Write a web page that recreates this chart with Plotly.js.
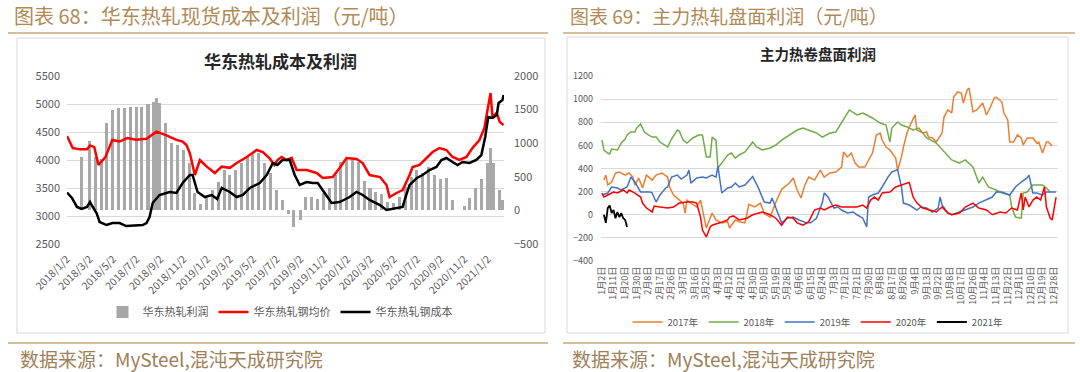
<!DOCTYPE html>
<html><head><meta charset="utf-8">
<script src="https://cdn.plot.ly/plotly-3.0.1.min.js"></script>
<style>html,body{margin:0;padding:0;background:#fff;} #chart{width:1080px;height:372px;}</style>
</head><body><div id="chart"></div>
<script>
// ---------- Left chart data (华东热轧成本及利润) ----------
const leftTickDates = ['2018-01-02','2018-03-02','2018-05-02','2018-07-02','2018-09-02','2018-11-02','2019-01-02','2019-03-02','2019-05-02','2019-07-02','2019-09-02','2019-11-02','2020-01-02','2020-03-02','2020-05-02','2020-07-02','2020-09-02','2020-11-02','2021-01-02'];
const leftTickLabels = ['2018/1/2','2018/3/2','2018/5/2','2018/7/2','2018/9/2','2018/11/2','2019/1/2','2019/3/2','2019/5/2','2019/7/2','2019/9/2','2019/11/2','2020/1/2','2020/3/2','2020/5/2','2020/7/2','2020/9/2','2020/11/2','2021/1/2'];

const priceDates = ['2018-01-02','2018-01-17','2018-02-05','2018-02-23','2018-03-03','2018-03-14','2018-03-25','2018-04-12','2018-04-30','2018-05-19','2018-06-08','2018-07-01','2018-07-28','2018-08-23','2018-09-18','2018-10-14','2018-10-30','2018-11-09','2018-11-18','2018-12-01','2018-12-14','2019-01-01','2019-01-22','2019-02-09','2019-03-02','2019-03-20','2019-04-15','2019-05-11','2019-05-27','2019-06-13','2019-06-26','2019-07-04','2019-07-15','2019-07-28','2019-08-10','2019-08-23','2019-09-18','2019-10-14','2019-10-30','2019-11-25','2019-12-13','2019-12-31','2020-01-26','2020-02-11','2020-02-29','2020-03-27','2020-04-13','2020-04-21','2020-05-09','2020-05-25','2020-06-12','2020-06-20','2020-07-08','2020-07-26','2020-08-11','2020-08-29','2020-09-16','2020-10-02','2020-10-20','2020-11-07','2020-11-23','2020-12-11','2020-12-24','2021-01-01','2021-01-09','2021-01-14','2021-01-25','2021-02-02','2021-02-12'];
const priceVals = [4430,4214,4190,4190,4260,4230,3911,4050,4357,4330,4393,4360,4380,4506,4440,4360,4330,4268,4120,3732,4000,3881,3768,3881,3860,3946,4054,4179,4143,4036,3911,4000,4054,4000,4036,3821,3821,3768,3679,3696,3857,4036,4018,3946,3732,3696,3554,3339,3411,3464,3732,3875,3911,4036,4143,4214,4179,4054,4000,4054,4214,4357,4571,4893,5196,4768,4839,4679,4625];

const costDates = ['2018-01-02','2018-01-15','2018-01-28','2018-02-09','2018-02-23','2018-03-03','2018-03-10','2018-03-20','2018-03-28','2018-04-15','2018-04-30','2018-05-19','2018-06-05','2018-07-01','2018-07-18','2018-07-28','2018-08-05','2018-08-13','2018-08-31','2018-09-26','2018-10-14','2018-10-30','2018-11-18','2018-11-25','2018-12-08','2018-12-27','2019-01-14','2019-01-28','2019-02-09','2019-03-02','2019-03-20','2019-04-05','2019-04-23','2019-05-19','2019-06-06','2019-06-22','2019-07-04','2019-07-17','2019-08-05','2019-08-18','2019-08-31','2019-09-18','2019-10-04','2019-10-17','2019-10-30','2019-11-22','2019-12-13','2020-01-08','2020-01-26','2020-02-11','2020-02-29','2020-03-27','2020-04-13','2020-05-09','2020-05-25','2020-05-31','2020-06-12','2020-07-01','2020-07-16','2020-08-03','2020-08-21','2020-09-03','2020-09-16','2020-10-02','2020-10-15','2020-10-28','2020-11-15','2020-12-03','2020-12-16','2020-12-26','2021-01-03','2021-01-14','2021-01-25','2021-01-30','2021-02-09','2021-02-12'];
const costVals = [3420,3321,3161,3125,3161,3250,3161,3054,2893,2839,2875,2875,2821,2839,2839,2875,2982,3232,3375,3429,3411,3589,3732,3732,3429,3339,3375,3304,3500,3429,3339,3375,3500,3589,3732,3946,3911,4000,4000,3732,3554,3607,3589,3589,3464,3232,3250,3339,3429,3375,3286,3196,3107,3143,3161,3300,3550,3679,3732,3821,3875,4000,4036,3964,3911,3964,3946,4000,4089,4411,4768,4750,4804,5018,5071,5161];

const profitDates = ['2018-02-08','2018-03-01','2018-03-16','2018-04-01','2018-04-16','2018-05-01','2018-05-16','2018-06-01','2018-06-16','2018-07-01','2018-07-16','2018-08-01','2018-08-16','2018-08-23','2018-09-01','2018-09-16','2018-10-01','2018-10-16','2018-11-01','2018-11-16','2018-12-01','2018-12-16','2019-01-01','2019-01-16','2019-02-01','2019-02-16','2019-03-01','2019-03-16','2019-04-01','2019-04-16','2019-05-01','2019-05-16','2019-06-01','2019-06-16','2019-07-01','2019-07-16','2019-08-01','2019-08-16','2019-09-01','2019-09-16','2019-10-01','2019-10-16','2019-11-01','2019-11-16','2019-12-01','2019-12-16','2020-01-01','2020-01-16','2020-02-01','2020-02-16','2020-03-01','2020-03-16','2020-04-01','2020-04-16','2020-05-01','2020-05-16','2020-06-01','2020-06-16','2020-07-01','2020-07-16','2020-08-01','2020-08-16','2020-09-01','2020-09-16','2020-10-01','2020-10-16','2020-11-01','2020-11-16','2020-12-01','2020-12-16','2021-01-01','2021-01-09','2021-01-16','2021-02-01','2021-02-08'];
const profitVals = [795,1040,800,760,1300,1490,1520,1530,1540,1540,1540,1580,1620,1680,1600,1300,1010,970,900,700,260,100,190,300,420,600,520,600,700,790,850,850,700,550,300,150,-50,-250,-150,200,200,170,260,340,520,720,790,780,720,440,330,280,240,120,110,200,350,500,600,560,640,530,460,480,150,10,60,180,330,460,700,930,700,300,160];

// ---------- Right chart data (主力热卷盘面利润) ----------
const rightTickLabels = ['1月2日','1月11日','1月20日','1月30日','2月8日','2月17日','2月26日','3月7日','3月16日','3月25日','4月3日','4月12日','4月21日','4月30日','5月10日','5月19日','5月28日','6月6日','6月15日','6月24日','7月3日','7月12日','7月21日','7月30日','8月8日','8月17日','8月26日','9月4日','9月13日','9月22日','10月8日','10月17日','10月26日','11月4日','11月13日','11月22日','12月1日','12月10日','12月19日','12月28日'];
const daysPerLabel = 6; // trading days between labels

const day2017 = [1,2,3,5,7,9,12,14,16,17,19,21,23,26,28,31,34,35,37,39,42,43,44,46,49,51,53,54,57,59,62,65,66,69,71,74,76,79,82,84,87,90,93,97,99,101,103,105,107,110,113,115,118,121,124,125,127,129,131,133,136,138,140,142,144,145,147,149,150,152,153,155,156,158,160,162,163,166,168,169,171,173,176,177,179,181,182,184,186,187,189,190,192,194,197,199,201,203,204,207,208,210,211,213,215,217,218,220,223,225,226,228,230,231,233];
const val2017 = [300,343,257,283,361,370,343,361,326,257,318,231,343,300,343,361,326,240,171,145,101,15,127,101,67,127,-20,-115,15,-45,-70,-60,-115,-45,-60,-70,90,67,100,10,-20,110,220,274,318,214,145,257,326,300,387,326,361,370,413,543,500,534,447,413,413,474,534,690,707,646,586,560,534,490,387,500,586,716,793,863,733,707,716,672,664,629,707,845,906,880,1018,1062,1053,966,1079,1096,889,906,966,863,932,1010,1018,975,880,820,629,629,690,664,603,664,664,620,629,534,629,629,595];

const day2018 = [0,1,3,4,5,8,10,12,13,15,17,18,20,22,24,26,28,30,34,36,39,40,42,44,47,50,52,54,56,57,59,60,62,65,67,69,71,74,76,78,80,83,87,90,93,97,101,104,107,111,114,118,121,124,127,128,132,135,137,140,144,147,149,150,153,155,158,161,164,168,173,178,181,185,188,192,195,197,200,204,207,211,212,214,217,218,220,223,225,228,230,232];
const val2018 = [646,560,534,525,568,560,620,655,690,716,716,750,785,716,690,672,672,629,586,655,733,724,646,620,664,690,690,500,500,672,646,404,447,517,534,490,517,543,586,629,586,560,577,603,646,690,733,750,733,707,672,707,716,793,880,906,863,880,863,837,793,776,629,750,802,776,759,733,750,664,620,534,474,447,474,413,274,326,240,214,188,171,67,-20,-30,188,197,257,257,257,231,197];

const day2019 = [0,3,5,8,10,13,14,15,17,20,22,25,26,28,30,33,34,36,39,41,44,45,46,49,52,54,57,59,60,62,65,67,69,71,74,78,81,84,87,88,90,92,93,96,99,102,106,108,111,114,115,117,119,120,122,124,127,130,132,135,137,138,140,143,145,148,150,152,153,155,156,159,163,165,168,171,174,175,176,179,181,185,188,192,195,199,202,204,207,211,214,217,220,221,223,225,228,230,233,235];
const val2019 = [171,188,240,231,214,240,283,326,283,197,197,197,188,110,171,231,240,326,343,309,343,387,274,318,326,318,343,326,420,188,231,240,274,240,257,330,230,110,101,145,58,-30,-70,-30,-20,-45,-70,-70,-30,101,188,153,84,58,67,41,15,24,0,-30,-105,153,171,188,240,326,370,387,390,240,101,84,41,67,58,24,58,153,84,15,0,24,41,67,101,127,153,197,197,171,240,283,318,343,188,188,171,197,197,197];

const day2020 = [0,1,3,6,8,11,13,14,16,20,21,23,26,27,30,34,37,40,44,47,49,51,52,54,56,57,61,65,66,68,71,75,78,82,83,87,90,93,96,99,101,104,107,110,113,115,118,121,124,128,132,135,137,139,141,143,145,149,152,155,158,159,161,163,166,169,173,176,179,181,185,188,192,195,199,202,206,209,212,215,217,218,219,221,223,225,227,229,230,232,233,235];
const val2020 = [188,153,171,197,188,214,188,214,197,153,101,58,24,75,67,58,67,101,110,110,101,-20,-132,-192,-105,-90,-70,-45,-20,-10,-45,-30,0,24,24,0,-30,-90,-20,-30,-70,-90,-60,41,58,41,67,84,67,67,67,84,58,127,153,127,188,197,240,257,274,280,153,101,58,41,24,67,15,0,15,67,101,58,41,0,24,15,58,41,188,41,153,67,127,153,127,240,67,-30,-45,153];

const day2021 = [1,2,3,4,5,6,7,8,9,10,11,12,13];
const val2021 = [0,-70,58,80,15,41,-30,24,-20,15,-30,-45,-105];

// ---------- helpers ----------
const W = 1080, H = 372;
const px = x => x / W, py = y => 1 - y / H;
const FONT = "'Noto Sans CJK SC', 'Noto Sans', sans-serif";
const TICK = '#595959';
const GRID = '#d9d9d9';
const GOLD = '#b08a55';

const rightTickVals = rightTickLabels.map((_, i) => i * daysPerLabel);

const traces = [
  {type:'bar', name:'华东热轧利润', x:profitDates, y:profitVals, xaxis:'x', yaxis:'y',
   marker:{color:'#a8a8a8', line:{width:0}}, width:8*86400000, legend:'legend'},
  {type:'scatter', mode:'lines', name:'华东热轧钢均价', x:priceDates, y:priceVals, xaxis:'x', yaxis:'y2',
   line:{color:'#ff0000', width:2.5}, legend:'legend'},
  {type:'scatter', mode:'lines', name:'华东热轧钢成本', x:costDates, y:costVals, xaxis:'x', yaxis:'y2',
   line:{color:'#000000', width:2.5}, legend:'legend'},
  {type:'scatter', mode:'lines', name:'2017年', x:day2017, y:val2017, xaxis:'x2', yaxis:'y3', line:{color:'#ed7d31', width:1.5}, legend:'legend2'},
  {type:'scatter', mode:'lines', name:'2018年', x:day2018, y:val2018, xaxis:'x2', yaxis:'y3', line:{color:'#70ad47', width:1.5}, legend:'legend2'},
  {type:'scatter', mode:'lines', name:'2019年', x:day2019, y:val2019, xaxis:'x2', yaxis:'y3', line:{color:'#4472c4', width:1.5}, legend:'legend2'},
  {type:'scatter', mode:'lines', name:'2020年', x:day2020, y:val2020, xaxis:'x2', yaxis:'y3', line:{color:'#ff0000', width:1.5}, legend:'legend2'},
  {type:'scatter', mode:'lines', name:'2021年', x:day2021, y:val2021, xaxis:'x2', yaxis:'y3', line:{color:'#000000', width:1.8}, legend:'legend2'}
];

const layout = {
  width:W, height:H, margin:{l:0,r:0,t:0,b:0},
  paper_bgcolor:'#ffffff', plot_bgcolor:'rgba(0,0,0,0)',
  font:{family:FONT, color:TICK, size:11},
  showlegend:true, bargap:0,
  xaxis:{type:'date', domain:[px(67), px(504)], anchor:'y', range:['2018-01-02','2021-02-13'],
         tickmode:'array', tickvals:leftTickDates, ticktext:leftTickLabels, tickangle:-45,
         showgrid:false, zeroline:false, showline:false, ticks:'', tickfont:{size:10.5, color:TICK},
         ticklabelstandoff:6},
  yaxis:{domain:[py(244), py(76)], anchor:'x', side:'right', range:[-500,2000], dtick:500,
         showgrid:false, zeroline:false, showline:false, ticks:'', tickfont:{size:11, color:TICK},
         ticklabelstandoff:9},
  yaxis2:{overlaying:'y', anchor:'x', side:'left', range:[2500,5500], dtick:500,
          showgrid:true, gridcolor:GRID, gridwidth:1, zeroline:false, showline:false, ticks:'',
          tickfont:{size:11, color:TICK}, ticklabelstandoff:6},
  xaxis2:{domain:[px(601), px(1058)], anchor:'y3', range:[-0.5, 236],
          tickmode:'array', tickvals:rightTickVals, ticktext:rightTickLabels, tickangle:-90,
          showgrid:false, zeroline:false, showline:false, ticks:'', tickfont:{size:9, color:TICK},
          ticklabelstandoff:3},
  yaxis3:{domain:[py(261), py(76)], anchor:'x2', range:[-400,1200], dtick:200,
          showgrid:true, gridcolor:GRID, gridwidth:1, zeroline:false, showline:false, ticks:'',
          tickfont:{size:9, color:TICK}, ticklabelstandoff:7},
  legend:{orientation:'h', x:px(280), xanchor:'center', y:py(312), yanchor:'middle',
          font:{size:11, color:TICK}, bgcolor:'rgba(0,0,0,0)', itemwidth:30, tracegroupgap:0},
  legend2:{orientation:'h', x:px(818), xanchor:'center', y:py(322), yanchor:'middle',
           font:{size:9.5, color:TICK}, bgcolor:'rgba(0,0,0,0)', itemwidth:30},
  shapes:[
    {type:'line', xref:'paper', yref:'paper', x0:px(8), x1:px(548), y0:py(33), y1:py(33), line:{color:'#c8a878', width:1.5}},
    {type:'line', xref:'paper', yref:'paper', x0:px(563), x1:px(1075), y0:py(33), y1:py(33), line:{color:'#c8a878', width:1.5}},
    {type:'line', xref:'paper', yref:'paper', x0:px(8), x1:px(548), y0:py(343), y1:py(343), line:{color:'#c8a878', width:1.5}},
    {type:'line', xref:'paper', yref:'paper', x0:px(563), x1:px(1075), y0:py(343), y1:py(343), line:{color:'#c8a878', width:1.5}},
    {type:'rect', xref:'paper', yref:'paper', x0:px(17), x1:px(545), y0:py(333), y1:py(38), line:{color:GRID, width:1}},
    {type:'rect', xref:'paper', yref:'paper', x0:px(567), x1:px(1068), y0:py(333), y1:py(37), line:{color:GRID, width:1}}
  ],
  annotations:[
    {xref:'paper', yref:'paper', x:px(12), y:py(16), xanchor:'left', yanchor:'middle', showarrow:false,
     text:'图表 68：华东热轧现货成本及利润（元/吨）', font:{size:20, color:GOLD}},
    {xref:'paper', yref:'paper', x:px(568), y:py(16), xanchor:'left', yanchor:'middle', showarrow:false,
     text:'图表 69：主力热轧盘面利润（元/吨）', font:{size:19, color:GOLD}},
    {xref:'paper', yref:'paper', x:px(18), y:py(358), xanchor:'left', yanchor:'middle', showarrow:false,
     text:'数据来源：MySteel,混沌天成研究院', font:{size:19, color:'#a08058'}},
    {xref:'paper', yref:'paper', x:px(570), y:py(358), xanchor:'left', yanchor:'middle', showarrow:false,
     text:'数据来源：MySteel,混沌天成研究院', font:{size:19, color:'#a08058'}},
    {xref:'paper', yref:'paper', x:px(280), y:py(61), xanchor:'center', yanchor:'middle', showarrow:false,
     text:'<b>华东热轧成本及利润</b>', font:{size:17, color:'#262626'}},
    {xref:'paper', yref:'paper', x:px(818), y:py(54), xanchor:'center', yanchor:'middle', showarrow:false,
     text:'<b>主力热卷盘面利润</b>', font:{size:14.5, color:'#262626'}}
  ]
};

Plotly.newPlot('chart', traces, layout, {staticPlot:true, displayModeBar:false});
</script></body></html>
